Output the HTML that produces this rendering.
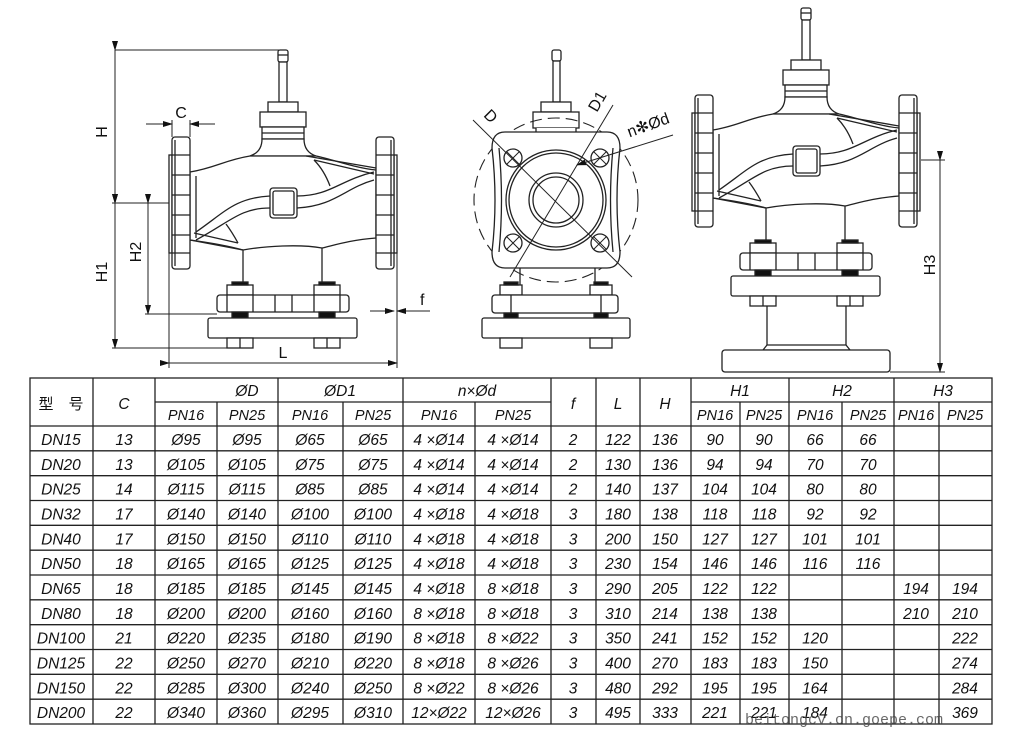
<!DOCTYPE html>
<html><head><meta charset="utf-8"><style>
html,body{margin:0;padding:0;background:#fff;}
svg{display:block;}
.t{font-family:"Liberation Sans Narrow","Liberation Sans","Noto Sans CJK SC",sans-serif;font-style:italic;font-size:15.5px;fill:#111;}
.t text{text-anchor:middle;}
.d{font-family:"Liberation Sans",sans-serif;font-size:16px;fill:#111;}
</style></head><body>
<svg width="1019" height="738" viewBox="0 0 1019 738" xmlns="http://www.w3.org/2000/svg">
<defs>
<marker id="ar" markerWidth="10" markerHeight="6" refX="9" refY="3" orient="auto" markerUnits="userSpaceOnUse"><path d="M0,0 L10,3 L0,6 Z" fill="#111"/></marker>
<g id="valve" fill="#fff" stroke="#222" stroke-width="1.3">
  <rect x="278" y="50" width="10" height="12" rx="2"/>
  <line x1="278" y1="55" x2="288" y2="55"/>
  <rect x="279" y="62" width="8" height="40"/>
  <rect x="268" y="102" width="30" height="10"/>
  <rect x="260" y="112" width="46" height="15"/>
  <rect x="262" y="127" width="42" height="12"/>
  <line x1="262" y1="133" x2="304" y2="133"/>
  <path d="M262,139 Q262,152 250,156 L316,156 Q304,152 304,139 Z"/>
  <path d="M190,172 C215,168 225,160 250,156 L316,156 C335,160 355,168 376,170 L376,238 C350,240 335,245 322,248 C300,244 265,246 243,250 C225,245 205,242 190,240 Z"/>
  <line x1="196" y1="176" x2="196" y2="238"/>
  <path d="M306,156 L376,168 M314,160 L374,174" fill="none"/>
  <path d="M190,240 L243,250 M194,233 L238,243" fill="none"/>
  <path d="M196,232 C225,212 235,198 270,196 M196,240 C230,222 240,208 270,208" fill="none"/>
  <path d="M297,196 C330,196 340,180 374,172 M297,208 C335,206 345,188 374,180" fill="none"/>
  <path d="M238,243 Q232,232 226,224 M314,160 Q324,170 330,186" fill="none"/>
  <rect x="270" y="188" width="27" height="30" rx="3"/>
  <rect x="273" y="191" width="21" height="24" rx="2"/>
  <line x1="243" y1="250" x2="243" y2="288"/>
  <line x1="322" y1="248" x2="322" y2="288"/>
  <rect x="169" y="155" width="3" height="98"/>
  <rect x="172" y="137" width="18" height="132" rx="3"/>
  <path d="M175,140 L175,266 M172,155 L190,155 M172,175 L190,175 M172,195 L190,195 M172,215 L190,215 M172,235 L190,235 M172,253 L190,253" fill="none"/>
  <rect x="394" y="155" width="3" height="98"/>
  <rect x="376" y="137" width="18" height="132" rx="3"/>
  <path d="M391,140 L391,266 M376,155 L394,155 M376,175 L394,175 M376,195 L394,195 M376,215 L394,215 M376,235 L394,235 M376,253 L394,253" fill="none"/>
</g>
<g id="lower" fill="#fff" stroke="#222" stroke-width="1.3">
  <rect x="227" y="285" width="26" height="10"/>
  <rect x="314" y="285" width="26" height="10"/>
  <rect x="232" y="282" width="16" height="3" fill="#111"/>
  <rect x="319" y="282" width="16" height="3" fill="#111"/>
  <rect x="217" y="295" width="132" height="17" rx="3"/>
  <path d="M227,295 V312 M253,295 V312 M275,295 V312 M292,295 V312 M314,295 V312 M340,295 V312" fill="none"/>
  <rect x="232" y="312" width="16" height="6" fill="#111"/>
  <rect x="319" y="312" width="16" height="6" fill="#111"/>
  <rect x="208" y="318" width="149" height="20" rx="2"/>
  <rect x="227" y="338" width="26" height="10"/>
  <rect x="314" y="338" width="26" height="10"/>
  <line x1="240" y1="338" x2="240" y2="348"/>
  <line x1="327" y1="338" x2="327" y2="348"/>
</g>
</defs>

<!-- Left view -->
<use href="#valve"/>
<use href="#lower"/>
<g stroke="#222" stroke-width="1" fill="none">
  <line x1="115" y1="50" x2="280" y2="50"/>
  <line x1="115" y1="50" x2="115" y2="203" marker-start="url(#ar)" marker-end="url(#ar)"/>
  <line x1="112" y1="203" x2="169" y2="203"/>
  <line x1="115" y1="203" x2="115" y2="348" marker-start="url(#ar)" marker-end="url(#ar)"/>
  <line x1="112" y1="348" x2="228" y2="348"/>
  <line x1="148" y1="203" x2="148" y2="314" marker-start="url(#ar)" marker-end="url(#ar)"/>
  <line x1="145" y1="314" x2="217" y2="314"/>
  <line x1="169" y1="253" x2="169" y2="368"/>
  <line x1="397" y1="253" x2="397" y2="368"/>
  <line x1="169" y1="363" x2="397" y2="363" marker-start="url(#ar)" marker-end="url(#ar)"/>
  <line x1="172" y1="120" x2="172" y2="137"/>
  <line x1="190" y1="120" x2="190" y2="137"/>
  <line x1="146" y1="124" x2="172" y2="124" marker-end="url(#ar)"/>
  <line x1="215" y1="124" x2="190" y2="124" marker-end="url(#ar)"/>
  <line x1="370" y1="311" x2="394" y2="311" marker-end="url(#ar)"/>
  <line x1="430" y1="311" x2="397" y2="311" marker-end="url(#ar)"/>
</g>
<text class="d" x="181" y="118" text-anchor="middle">C</text>
<text class="d" x="420" y="305">f</text>
<text class="d" x="283" y="358" text-anchor="middle">L</text>
<text class="d" transform="translate(107,132) rotate(-90)" text-anchor="middle">H</text>
<text class="d" transform="translate(107,272) rotate(-90)" text-anchor="middle">H1</text>
<text class="d" transform="translate(141,252) rotate(-90)" text-anchor="middle">H2</text>

<!-- Middle view -->
<g fill="#fff" stroke="#222" stroke-width="1.3">
  <rect x="552" y="50" width="9" height="11" rx="2"/>
  <rect x="553" y="61" width="7" height="41"/>
  <rect x="541" y="102" width="30" height="10"/>
  <rect x="533" y="112" width="46" height="16"/>
  <path d="M536,128 L536,134 L576,134 L576,128"/>
  <circle cx="556" cy="200" r="82" fill="none" stroke-dasharray="12,6" stroke-width="1.1"/>
  <path d="M505,132 L607,132 Q620,132 620,148 Q614,200 620,252 Q620,268 607,268 L505,268 Q492,268 492,252 Q498,200 492,148 Q492,132 505,132 Z"/>
  <path d="M499,148 Q504,200 499,252 M613,148 Q608,200 613,252" fill="none"/>
  <circle cx="556" cy="200" r="50"/>
  <circle cx="556" cy="200" r="47"/>
  <circle cx="556" cy="200" r="27"/>
  <circle cx="556" cy="200" r="23"/>
  <circle cx="513" cy="158" r="9"/>
  <circle cx="600" cy="158" r="9"/>
  <circle cx="513" cy="243" r="9"/>
  <circle cx="600" cy="243" r="9"/>
  <path d="M507,152 L519,164 M507,164 L519,152 M594,152 L606,164 M594,164 L606,152 M507,237 L519,249 M507,249 L519,237 M594,237 L606,249 M594,249 L606,237" fill="none" stroke-width="1"/>
  <line x1="520" y1="268" x2="520" y2="288"/>
  <line x1="595" y1="268" x2="595" y2="288"/>
  <rect x="500" y="285" width="22" height="10"/>
  <rect x="590" y="285" width="22" height="10"/>
  <rect x="504" y="282" width="14" height="3" fill="#111"/>
  <rect x="594" y="282" width="14" height="3" fill="#111"/>
  <rect x="492" y="295" width="126" height="18" rx="3"/>
  <line x1="511" y1="295" x2="511" y2="313"/><line x1="601" y1="295" x2="601" y2="313"/>
  <rect x="504" y="313" width="14" height="5" fill="#111"/>
  <rect x="594" y="313" width="14" height="5" fill="#111"/>
  <rect x="482" y="318" width="148" height="20" rx="2"/>
  <rect x="500" y="338" width="22" height="10"/>
  <rect x="590" y="338" width="22" height="10"/>
</g>
<g stroke="#222" stroke-width="1" fill="none">
  <line x1="473" y1="120" x2="632" y2="277"/>
  <line x1="613" y1="105" x2="510" y2="277"/>
  <line x1="673" y1="135" x2="577" y2="165" marker-end="url(#ar)"/>
</g>
<text class="d" transform="translate(487,120) rotate(45)" text-anchor="middle">D</text>
<text class="d" transform="translate(602,104) rotate(-60)" text-anchor="middle">D1</text>
<text class="d" transform="translate(650,130) rotate(-20)" text-anchor="middle">n✻Ød</text>

<!-- Right view -->
<use href="#valve" transform="translate(523,-42)"/>
<use href="#lower" transform="translate(523,-42)"/>
<g fill="#fff" stroke="#222" stroke-width="1.3">
  <line x1="767" y1="306" x2="767" y2="345"/>
  <line x1="846" y1="306" x2="846" y2="345"/>
  <path d="M767,345 L763,350 L850,350 L846,345 Z"/>
  <rect x="722" y="350" width="168" height="22" rx="3"/>
</g>
<g stroke="#222" stroke-width="1" fill="none">
  <line x1="921" y1="160" x2="945" y2="160"/>
  <line x1="890" y1="372" x2="945" y2="372"/>
  <line x1="940" y1="160" x2="940" y2="372" marker-start="url(#ar)" marker-end="url(#ar)"/>
</g>
<text class="d" transform="translate(935,265) rotate(-90)" text-anchor="middle">H3</text>

<!-- Table -->
<g stroke="#222" stroke-width="1.3" fill="none">
  <rect x="30" y="378" width="962" height="346"/>
  <line x1="155" y1="402" x2="551" y2="402"/>
  <line x1="691" y1="402" x2="992" y2="402"/>
  <line x1="30" y1="426" x2="992" y2="426"/>
  <line x1="30" y1="450.8" x2="992" y2="450.8"/>
  <line x1="30" y1="475.7" x2="992" y2="475.7"/>
  <line x1="30" y1="500.5" x2="992" y2="500.5"/>
  <line x1="30" y1="525.3" x2="992" y2="525.3"/>
  <line x1="30" y1="550.2" x2="992" y2="550.2"/>
  <line x1="30" y1="575" x2="992" y2="575"/>
  <line x1="30" y1="599.8" x2="992" y2="599.8"/>
  <line x1="30" y1="624.7" x2="992" y2="624.7"/>
  <line x1="30" y1="649.5" x2="992" y2="649.5"/>
  <line x1="30" y1="674.3" x2="992" y2="674.3"/>
  <line x1="30" y1="699.2" x2="992" y2="699.2"/>
  <line x1="93" y1="378" x2="93" y2="724"/>
  <line x1="155" y1="378" x2="155" y2="724"/>
  <line x1="217" y1="402" x2="217" y2="724"/>
  <line x1="278" y1="378" x2="278" y2="724"/>
  <line x1="343" y1="402" x2="343" y2="724"/>
  <line x1="403" y1="378" x2="403" y2="724"/>
  <line x1="475" y1="402" x2="475" y2="724"/>
  <line x1="551" y1="378" x2="551" y2="724"/>
  <line x1="596" y1="378" x2="596" y2="724"/>
  <line x1="640" y1="378" x2="640" y2="724"/>
  <line x1="691" y1="378" x2="691" y2="724"/>
  <line x1="740" y1="402" x2="740" y2="724"/>
  <line x1="789" y1="378" x2="789" y2="724"/>
  <line x1="842" y1="402" x2="842" y2="724"/>
  <line x1="894" y1="378" x2="894" y2="724"/>
  <line x1="939" y1="402" x2="939" y2="724"/>
</g>
<g class="t">
<text x="61" y="409" style="font-style:normal;font-size:15px">型　号</text>
<text x="124" y="409">C</text>
<text x="573" y="409">f</text>
<text x="618" y="409">L</text>
<text x="665" y="409">H</text>
<text y="396"><tspan x="247">ØD</tspan><tspan x="340">ØD1</tspan><tspan x="477">n×Ød</tspan><tspan x="740">H1</tspan><tspan x="842">H2</tspan><tspan x="943">H3</tspan></text>
<text y="420" style="font-size:14.5px"><tspan x="186">PN16</tspan><tspan x="247">PN25</tspan><tspan x="310">PN16</tspan><tspan x="373">PN25</tspan><tspan x="439">PN16</tspan><tspan x="513">PN25</tspan><tspan x="715">PN16</tspan><tspan x="764">PN25</tspan><tspan x="815">PN16</tspan><tspan x="868">PN25</tspan><tspan x="916">PN16</tspan><tspan x="965">PN25</tspan></text>
<text y="445"><tspan x="61">DN15</tspan><tspan x="124">13</tspan><tspan x="186">Ø95</tspan><tspan x="247">Ø95</tspan><tspan x="310">Ø65</tspan><tspan x="373">Ø65</tspan><tspan x="439">4 ×Ø14</tspan><tspan x="513">4 ×Ø14</tspan><tspan x="573">2</tspan><tspan x="618">122</tspan><tspan x="665">136</tspan><tspan x="715">90</tspan><tspan x="764">90</tspan><tspan x="815">66</tspan><tspan x="868">66</tspan></text>
<text y="469.8"><tspan x="61">DN20</tspan><tspan x="124">13</tspan><tspan x="186">Ø105</tspan><tspan x="247">Ø105</tspan><tspan x="310">Ø75</tspan><tspan x="373">Ø75</tspan><tspan x="439">4 ×Ø14</tspan><tspan x="513">4 ×Ø14</tspan><tspan x="573">2</tspan><tspan x="618">130</tspan><tspan x="665">136</tspan><tspan x="715">94</tspan><tspan x="764">94</tspan><tspan x="815">70</tspan><tspan x="868">70</tspan></text>
<text y="494.7"><tspan x="61">DN25</tspan><tspan x="124">14</tspan><tspan x="186">Ø115</tspan><tspan x="247">Ø115</tspan><tspan x="310">Ø85</tspan><tspan x="373">Ø85</tspan><tspan x="439">4 ×Ø14</tspan><tspan x="513">4 ×Ø14</tspan><tspan x="573">2</tspan><tspan x="618">140</tspan><tspan x="665">137</tspan><tspan x="715">104</tspan><tspan x="764">104</tspan><tspan x="815">80</tspan><tspan x="868">80</tspan></text>
<text y="519.5"><tspan x="61">DN32</tspan><tspan x="124">17</tspan><tspan x="186">Ø140</tspan><tspan x="247">Ø140</tspan><tspan x="310">Ø100</tspan><tspan x="373">Ø100</tspan><tspan x="439">4 ×Ø18</tspan><tspan x="513">4 ×Ø18</tspan><tspan x="573">3</tspan><tspan x="618">180</tspan><tspan x="665">138</tspan><tspan x="715">118</tspan><tspan x="764">118</tspan><tspan x="815">92</tspan><tspan x="868">92</tspan></text>
<text y="544.3"><tspan x="61">DN40</tspan><tspan x="124">17</tspan><tspan x="186">Ø150</tspan><tspan x="247">Ø150</tspan><tspan x="310">Ø110</tspan><tspan x="373">Ø110</tspan><tspan x="439">4 ×Ø18</tspan><tspan x="513">4 ×Ø18</tspan><tspan x="573">3</tspan><tspan x="618">200</tspan><tspan x="665">150</tspan><tspan x="715">127</tspan><tspan x="764">127</tspan><tspan x="815">101</tspan><tspan x="868">101</tspan></text>
<text y="569.2"><tspan x="61">DN50</tspan><tspan x="124">18</tspan><tspan x="186">Ø165</tspan><tspan x="247">Ø165</tspan><tspan x="310">Ø125</tspan><tspan x="373">Ø125</tspan><tspan x="439">4 ×Ø18</tspan><tspan x="513">4 ×Ø18</tspan><tspan x="573">3</tspan><tspan x="618">230</tspan><tspan x="665">154</tspan><tspan x="715">146</tspan><tspan x="764">146</tspan><tspan x="815">116</tspan><tspan x="868">116</tspan></text>
<text y="594"><tspan x="61">DN65</tspan><tspan x="124">18</tspan><tspan x="186">Ø185</tspan><tspan x="247">Ø185</tspan><tspan x="310">Ø145</tspan><tspan x="373">Ø145</tspan><tspan x="439">4 ×Ø18</tspan><tspan x="513">8 ×Ø18</tspan><tspan x="573">3</tspan><tspan x="618">290</tspan><tspan x="665">205</tspan><tspan x="715">122</tspan><tspan x="764">122</tspan><tspan x="916">194</tspan><tspan x="965">194</tspan></text>
<text y="618.8"><tspan x="61">DN80</tspan><tspan x="124">18</tspan><tspan x="186">Ø200</tspan><tspan x="247">Ø200</tspan><tspan x="310">Ø160</tspan><tspan x="373">Ø160</tspan><tspan x="439">8 ×Ø18</tspan><tspan x="513">8 ×Ø18</tspan><tspan x="573">3</tspan><tspan x="618">310</tspan><tspan x="665">214</tspan><tspan x="715">138</tspan><tspan x="764">138</tspan><tspan x="916">210</tspan><tspan x="965">210</tspan></text>
<text y="643.7"><tspan x="61">DN100</tspan><tspan x="124">21</tspan><tspan x="186">Ø220</tspan><tspan x="247">Ø235</tspan><tspan x="310">Ø180</tspan><tspan x="373">Ø190</tspan><tspan x="439">8 ×Ø18</tspan><tspan x="513">8 ×Ø22</tspan><tspan x="573">3</tspan><tspan x="618">350</tspan><tspan x="665">241</tspan><tspan x="715">152</tspan><tspan x="764">152</tspan><tspan x="815">120</tspan><tspan x="965">222</tspan></text>
<text y="668.5"><tspan x="61">DN125</tspan><tspan x="124">22</tspan><tspan x="186">Ø250</tspan><tspan x="247">Ø270</tspan><tspan x="310">Ø210</tspan><tspan x="373">Ø220</tspan><tspan x="439">8 ×Ø18</tspan><tspan x="513">8 ×Ø26</tspan><tspan x="573">3</tspan><tspan x="618">400</tspan><tspan x="665">270</tspan><tspan x="715">183</tspan><tspan x="764">183</tspan><tspan x="815">150</tspan><tspan x="965">274</tspan></text>
<text y="693.3"><tspan x="61">DN150</tspan><tspan x="124">22</tspan><tspan x="186">Ø285</tspan><tspan x="247">Ø300</tspan><tspan x="310">Ø240</tspan><tspan x="373">Ø250</tspan><tspan x="439">8 ×Ø22</tspan><tspan x="513">8 ×Ø26</tspan><tspan x="573">3</tspan><tspan x="618">480</tspan><tspan x="665">292</tspan><tspan x="715">195</tspan><tspan x="764">195</tspan><tspan x="815">164</tspan><tspan x="965">284</tspan></text>
<text y="718.2"><tspan x="61">DN200</tspan><tspan x="124">22</tspan><tspan x="186">Ø340</tspan><tspan x="247">Ø360</tspan><tspan x="310">Ø295</tspan><tspan x="373">Ø310</tspan><tspan x="439">12×Ø22</tspan><tspan x="513">12×Ø26</tspan><tspan x="573">3</tspan><tspan x="618">495</tspan><tspan x="665">333</tspan><tspan x="715">221</tspan><tspan x="764">221</tspan><tspan x="815">184</tspan><tspan x="965">369</tspan></text>
</g>
<text x="745" y="724" font-family="Liberation Mono, monospace" font-size="15" fill="#444" opacity="0.8">beitongcv.cn.goepe.com</text>
</svg>
</body></html>
